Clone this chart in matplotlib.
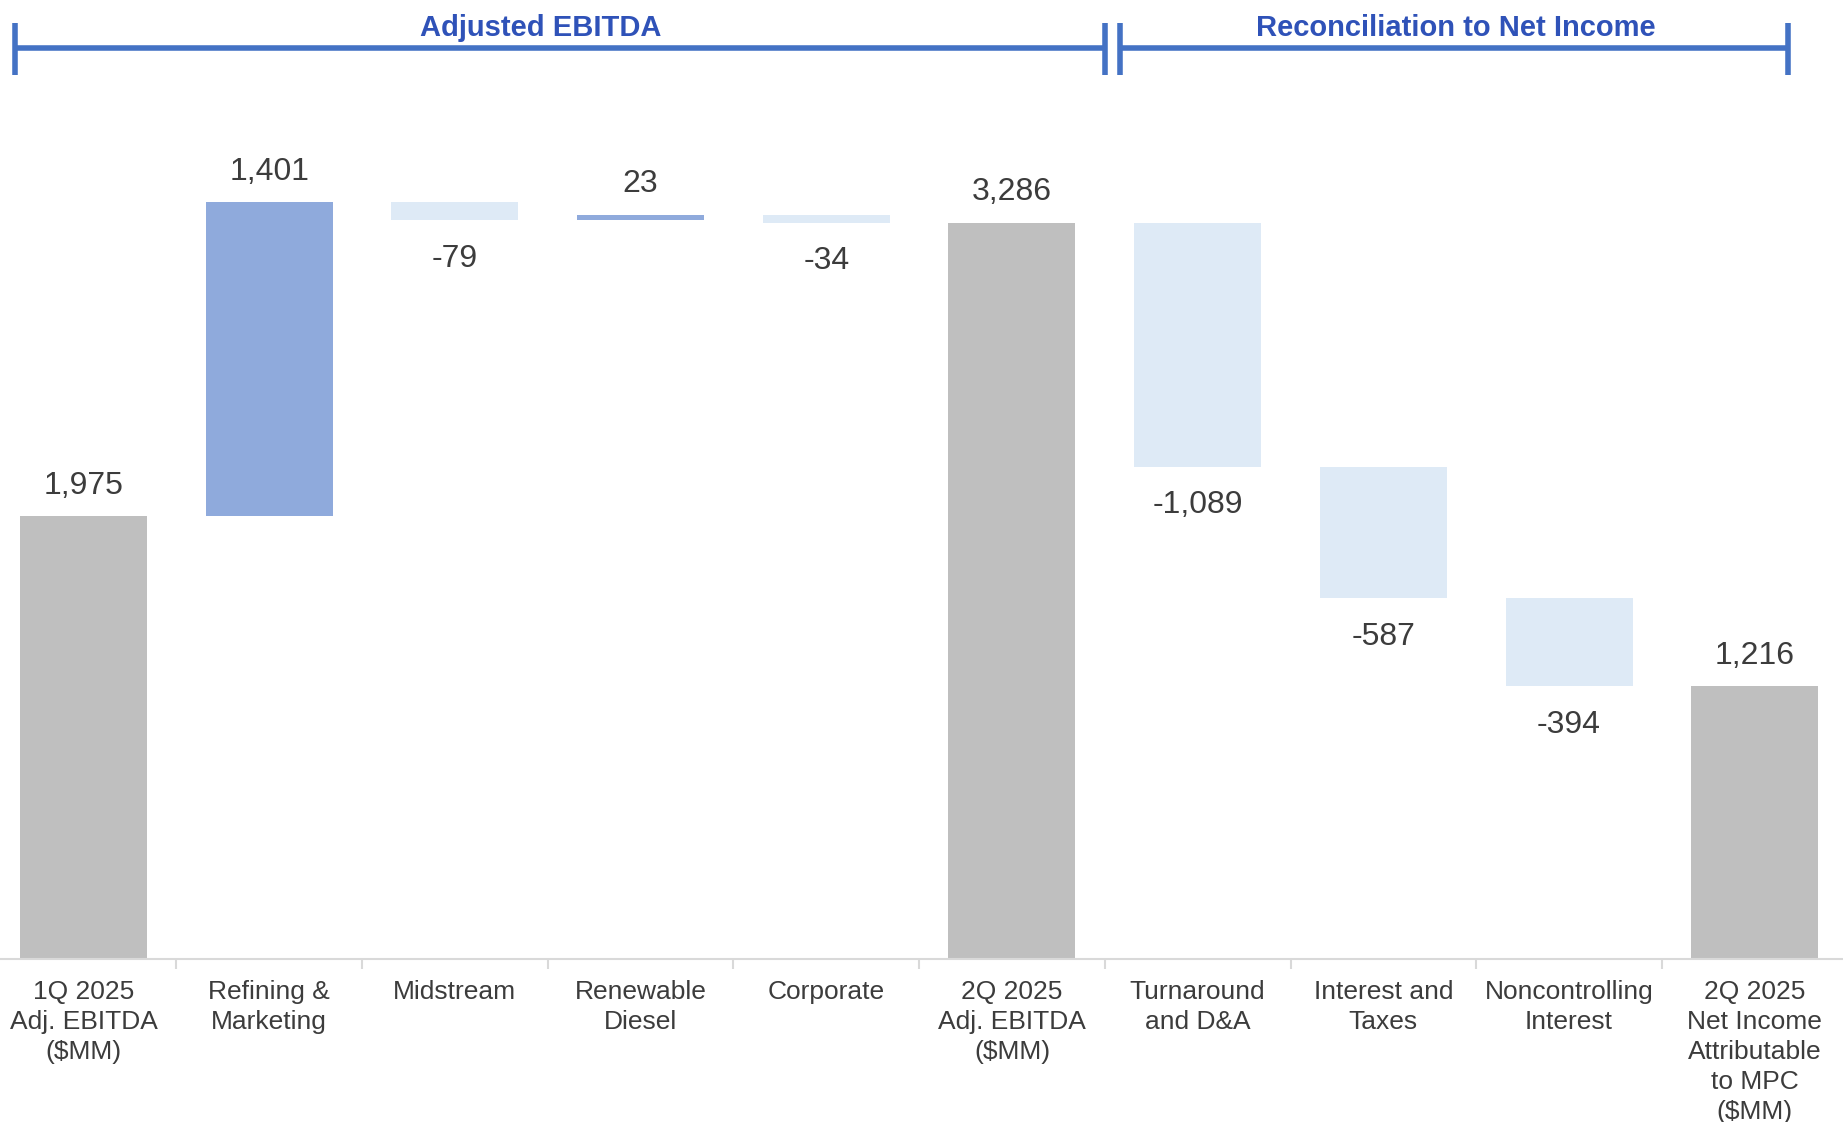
import matplotlib
matplotlib.use("Agg")
import matplotlib.pyplot as plt
from matplotlib.transforms import blended_transform_factory

# waterfall: 1Q adj. EBITDA -> 2Q adj. EBITDA -> 2Q net income
categories = [
    "1Q 2025\nAdj. EBITDA\n($MM)",
    "Refining &\nMarketing",
    "Midstream",
    "Renewable\nDiesel",
    "Corporate",
    "2Q 2025\nAdj. EBITDA\n($MM)",
    "Turnaround\nand D&A",
    "Interest and\nTaxes",
    "Noncontrolling\nInterest",
    "2Q 2025\nNet Income\nAttributable\nto MPC\n($MM)",
]
values = [1975, 1401, -79, 23, -34, 3286, -1089, -587, -394, 1216]
is_total = [True, False, False, False, False, True, False, False, False, True]

section_titles = ["Adjusted EBITDA", "Reconciliation to Net Income"]

GRAY = "#BFBFBF"
UP = "#8FAADC"
DOWN = "#DEEAF6"
TEXT = "#3C3C3C"
BLUE_LINE = "#4472C4"
BLUE_TEXT = "#2F52B8"

plt.rcParams["font.family"] = ["Liberation Sans", "DejaVu Sans"]

fig = plt.figure(figsize=(18.43, 11.22), dpi=100)
ax = fig.add_axes([-0.0051, 0.1453, 1.0076, 0.7191])

running = 0
for i, v in enumerate(values):
    if is_total[i]:
        bottom, height, color = 0, v, GRAY
        running = v
    else:
        bottom, height = running, v
        color = UP if v > 0 else DOWN
        running += v
    ax.bar(i, height, bottom=bottom, width=0.684, color=color, zorder=2)
    top = max(bottom, bottom + height)
    low = min(bottom, bottom + height)
    label = f"{v:,}"
    if v > 0:
        ax.annotate(label, (i, top), xytext=(0, 22), textcoords="offset points",
                    ha="center", va="center", fontsize=23, color=TEXT)
    else:
        ax.annotate(label, (i, low), xytext=(0, -28), textcoords="offset points",
                    ha="center", va="center", fontsize=23, color=TEXT)

ax.set_xlim(-0.5, len(values) - 0.5)
ax.set_ylim(0, 3600)
ax.set_yticks([])
for side in ["left", "right", "top"]:
    ax.spines[side].set_visible(False)
ax.spines["bottom"].set_color("#D9D9D9")
ax.spines["bottom"].set_linewidth(1.5)

ax.set_xticks(range(len(categories)))
ax.set_xticklabels(categories, fontsize=19, color=TEXT, linespacing=1.32,
                   va="top")
ax.tick_params(axis="x", which="major", length=0, pad=15)
ax.set_xticks([i + 0.5 for i in range(len(categories) - 1)], minor=True)
ax.tick_params(axis="x", which="minor", length=7, width=1.5, color="#D9D9D9")

# section brackets across the top
tr = blended_transform_factory(ax.transData, fig.transFigure)
y_line = 1 - 48 / 1122
y_top = 1 - 23 / 1122
y_bot = 1 - 75 / 1122
spans = [(-0.37, 5.5), (5.58, 9.18)]
title_x = [2.46, 7.39]
for (x0, x1), tx, title in zip(spans, title_x, section_titles):
    ax.plot([x0, x1], [y_line, y_line], color=BLUE_LINE, lw=4,
            transform=tr, clip_on=False, solid_capstyle="butt")
    for xe in (x0, x1):
        ax.plot([xe, xe], [y_bot, y_top], color=BLUE_LINE, lw=4,
                transform=tr, clip_on=False, solid_capstyle="butt")
    ax.text(tx, 1 - 28 / 1122, title, transform=tr, ha="center", va="center",
            fontsize=21, fontweight="bold", color=BLUE_TEXT,
            family=["Liberation Sans Narrow", "Liberation Sans", "DejaVu Sans"])

fig.savefig("out.png", dpi=100, facecolor="white")
